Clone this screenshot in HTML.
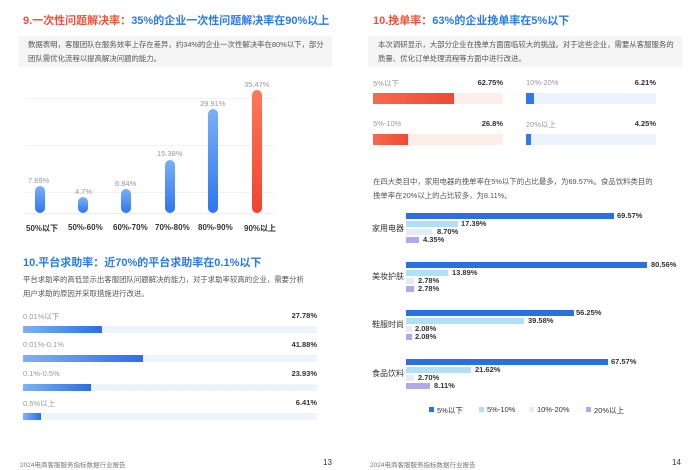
<!DOCTYPE html>
<html><head><meta charset="utf-8"><style>
*{margin:0;padding:0;box-sizing:border-box}
body{width:700px;height:470px;background:#fff;position:relative;overflow:hidden;font-family:"Liberation Sans","Noto Sans CJK SC",sans-serif}
.a{position:absolute;white-space:nowrap}
.t{font-size:11px;font-weight:bold}
.r{color:#f0503c}.b{color:#2a7ae8}
.p{font-size:7.4px;color:#555;line-height:14px}
.box{position:absolute;background:#f5f5f5}
.g{font-size:7.5px;color:#999}
.v{font-size:7.5px;color:#333;font-weight:bold}
.vb{position:absolute;width:10px;border-radius:5px;background:linear-gradient(#79b0f7,#2f76ec)}
.track{position:absolute;height:7px;background:#eef4fc}
.fill{position:absolute;height:7px;background:linear-gradient(90deg,#7fb2f4,#2a6fe4)}
.hb{position:absolute;height:6px}
.c1{background:#2b6fe0}.c2{background:#aee0f8}.c3{background:#e3ecf8}.c4{background:#b4a8ea}
</style></head><body>
<div class="a t" style="left:23px;top:12px"><span class="r">9.一次性问题解决率：</span><span class="b">35%的企业一次性问题解决率在90%以上</span></div>
<div class="box" style="left:18px;top:36px;width:314px;height:31px"></div>
<div class="a p" style="left:28px;top:38px">数据表明，客服团队在服务效率上存在差异，约34%的企业一次性解决率在80%以下，部分<br>团队需优化流程以提高解决问题的能力。</div>
<div style="position:absolute;left:25px;top:98px;width:250px;border-top:1px solid #f3f3f3"></div>
<div style="position:absolute;left:25px;top:145px;width:250px;border-top:1px solid #f3f3f3"></div>
<div style="position:absolute;left:25px;top:192px;width:250px;border-top:1px solid #f3f3f3"></div>
<div style="position:absolute;left:25px;top:213px;width:250px;border-top:1px solid #eee"></div>
<div class="vb" style="left:35px;top:186px;height:27px"></div><div class="a g" style="left:28px;top:176px">7.69%</div>
<div class="vb" style="left:78px;top:197px;height:16px"></div><div class="a g" style="left:75px;top:187px">4.7%</div>
<div class="vb" style="left:121px;top:189px;height:24px"></div><div class="a g" style="left:115px;top:179px">6.84%</div>
<div class="vb" style="left:165px;top:160px;height:53px"></div><div class="a g" style="left:157px;top:149px">15.38%</div>
<div class="vb" style="left:208px;top:109px;height:104px"></div><div class="a g" style="left:200px;top:99px">29.91%</div>
<div class="vb" style="left:252px;top:90px;height:123px;background:linear-gradient(#ff7a58,#f04232)"></div><div class="a g" style="left:244px;top:80px">35.47%</div>
<div class="a" style="left:26px;top:223px;font-size:8px;color:#333;font-weight:bold">50%以下</div>
<div class="a" style="left:68px;top:223px;font-size:8px;color:#333;font-weight:bold">50%-60%</div>
<div class="a" style="left:113px;top:223px;font-size:8px;color:#333;font-weight:bold">60%-70%</div>
<div class="a" style="left:155px;top:223px;font-size:8px;color:#333;font-weight:bold">70%-80%</div>
<div class="a" style="left:198px;top:223px;font-size:8px;color:#333;font-weight:bold">80%-90%</div>
<div class="a" style="left:244px;top:223px;font-size:8px;color:#333;font-weight:bold">90%以上</div>

<div class="a t b" style="left:23px;top:254px">10.平台求助率：近70%的平台求助率在0.1%以下</div>
<div class="a p" style="left:23px;top:273px">平台求助率的高低显示出客服团队问题解决的能力，对于求助率较高的企业，需要分析<br>用户求助的原因并采取措施进行改进。</div>
<div class="a g" style="left:23px;top:311px">0.01%以下</div><div class="a v" style="right:383px;top:311px">27.78%</div>
<div class="track" style="left:23px;top:326px;width:294px"></div><div class="fill" style="left:23px;top:326px;width:79px"></div>
<div class="a g" style="left:23px;top:340px">0.01%-0.1%</div><div class="a v" style="right:383px;top:340px">41.88%</div>
<div class="track" style="left:23px;top:355px;width:294px"></div><div class="fill" style="left:23px;top:355px;width:120px"></div>
<div class="a g" style="left:23px;top:369px">0.1%-0.5%</div><div class="a v" style="right:383px;top:369px">23.93%</div>
<div class="track" style="left:23px;top:384px;width:294px"></div><div class="fill" style="left:23px;top:384px;width:68px"></div>
<div class="a g" style="left:23px;top:398px">0.5%以上</div><div class="a v" style="right:383px;top:398px">6.41%</div>
<div class="track" style="left:23px;top:413px;width:294px"></div><div class="fill" style="left:23px;top:413px;width:18px"></div>
<div class="a" style="left:20px;top:459px;font-size:6.5px;color:#777">2024电商客服服务指标数据行业报告</div>
<div class="a" style="left:323px;top:458px;font-size:8px;color:#333">13</div>

<div class="a t" style="left:373px;top:12px"><span class="r">10.挽单率：</span><span class="b">63%的企业挽单率在5%以下</span></div>
<div class="box" style="left:368px;top:36px;width:314px;height:31px"></div>
<div class="a p" style="left:378px;top:38px">本次调研显示，大部分企业在挽单方面面临较大的挑战。对于这些企业，需要从客服服务的<br>质量、优化订单处理流程等方面中进行改进。</div>
<div class="a g" style="left:373px;top:78px">5%以下</div><div class="a v" style="right:197px;top:78px">62.75%</div>
<div style="position:absolute;left:373px;top:93px;width:130px;height:11px;background:#fdeeea"></div>
<div style="position:absolute;left:373px;top:93px;width:81px;height:11px;background:linear-gradient(90deg,#f46a50,#ee4a35)"></div>
<div class="a g" style="left:373px;top:119px">5%-10%</div><div class="a v" style="right:197px;top:119px">26.8%</div>
<div style="position:absolute;left:373px;top:134px;width:130px;height:11px;background:#fdeeea"></div>
<div style="position:absolute;left:373px;top:134px;width:35px;height:11px;background:linear-gradient(90deg,#f46a50,#ee4a35)"></div>
<div class="a g" style="left:526px;top:78px">10%-20%</div><div class="a v" style="right:44px;top:78px">6.21%</div>
<div style="position:absolute;left:526px;top:93px;width:130px;height:11px;background:#edf3fc"></div>
<div style="position:absolute;left:526px;top:93px;width:8px;height:11px;background:#2f7ae8"></div>
<div class="a g" style="left:526px;top:119px">20%以上</div><div class="a v" style="right:44px;top:119px">4.25%</div>
<div style="position:absolute;left:526px;top:134px;width:130px;height:11px;background:#edf3fc"></div>
<div style="position:absolute;left:526px;top:134px;width:5px;height:11px;background:#2f7ae8"></div>
<div class="a p" style="left:373px;top:175px">在四大类目中，家用电器的挽单率在5%以下的占比最多，为69.57%。食品饮料类目的<br>挽单率在20%以上的占比较多，为8.11%。</div>

<div class="a" style="left:372px;top:223px;font-size:8px;color:#333">家用电器</div>
<div class="hb c1" style="left:406px;top:213px;width:208px"></div><div class="a v" style="left:617px;top:211px">69.57%</div>
<div class="hb c2" style="left:406px;top:221px;width:52px"></div><div class="a v" style="left:461px;top:219px">17.39%</div>
<div class="hb c3" style="left:406px;top:229px;width:26px"></div><div class="a v" style="left:437px;top:227px">8.70%</div>
<div class="hb c4" style="left:406px;top:237px;width:13px"></div><div class="a v" style="left:423px;top:235px">4.35%</div>

<div class="a" style="left:372px;top:271px;font-size:8px;color:#333">美妆护肤</div>
<div class="hb c1" style="left:406px;top:262px;width:241px"></div><div class="a v" style="left:651px;top:260px">80.56%</div>
<div class="hb c2" style="left:406px;top:270px;width:42px"></div><div class="a v" style="left:452px;top:268px">13.89%</div>
<div class="hb c3" style="left:406px;top:278px;width:8px"></div><div class="a v" style="left:418px;top:276px">2.78%</div>
<div class="hb c4" style="left:406px;top:286px;width:8px"></div><div class="a v" style="left:418px;top:284px">2.78%</div>

<div class="a" style="left:372px;top:319px;font-size:8px;color:#333">鞋服时尚</div>
<div class="hb c1" style="left:406px;top:310px;width:168px"></div><div class="a v" style="left:576px;top:308px">56.25%</div>
<div class="hb c2" style="left:406px;top:318px;width:118px"></div><div class="a v" style="left:528px;top:316px">39.58%</div>
<div class="hb c3" style="left:406px;top:326px;width:6px"></div><div class="a v" style="left:415px;top:324px">2.08%</div>
<div class="hb c4" style="left:406px;top:334px;width:6px"></div><div class="a v" style="left:415px;top:332px">2.08%</div>

<div class="a" style="left:372px;top:368px;font-size:8px;color:#333">食品饮料</div>
<div class="hb c1" style="left:406px;top:359px;width:202px"></div><div class="a v" style="left:611px;top:357px">67.57%</div>
<div class="hb c2" style="left:406px;top:367px;width:65px"></div><div class="a v" style="left:475px;top:365px">21.62%</div>
<div class="hb c3" style="left:406px;top:375px;width:8px"></div><div class="a v" style="left:418px;top:373px">2.70%</div>
<div class="hb c4" style="left:406px;top:383px;width:24px"></div><div class="a v" style="left:434px;top:381px">8.11%</div>

<div class="c1" style="position:absolute;left:429px;top:407px;width:5px;height:5px"></div><div class="a v" style="left:437px;top:405px;font-weight:normal">5%以下</div>
<div class="c2" style="position:absolute;left:479px;top:407px;width:5px;height:5px"></div><div class="a v" style="left:487px;top:405px;font-weight:normal">5%-10%</div>
<div class="c3" style="position:absolute;left:529px;top:407px;width:5px;height:5px"></div><div class="a v" style="left:537px;top:405px;font-weight:normal">10%-20%</div>
<div class="c4" style="position:absolute;left:586px;top:407px;width:5px;height:5px"></div><div class="a v" style="left:594px;top:405px;font-weight:normal">20%以上</div>
<div class="a" style="left:370px;top:459px;font-size:6.5px;color:#777">2024电商客服服务指标数据行业报告</div>
<div class="a" style="left:672px;top:458px;font-size:8px;color:#333">14</div>
</body></html>
